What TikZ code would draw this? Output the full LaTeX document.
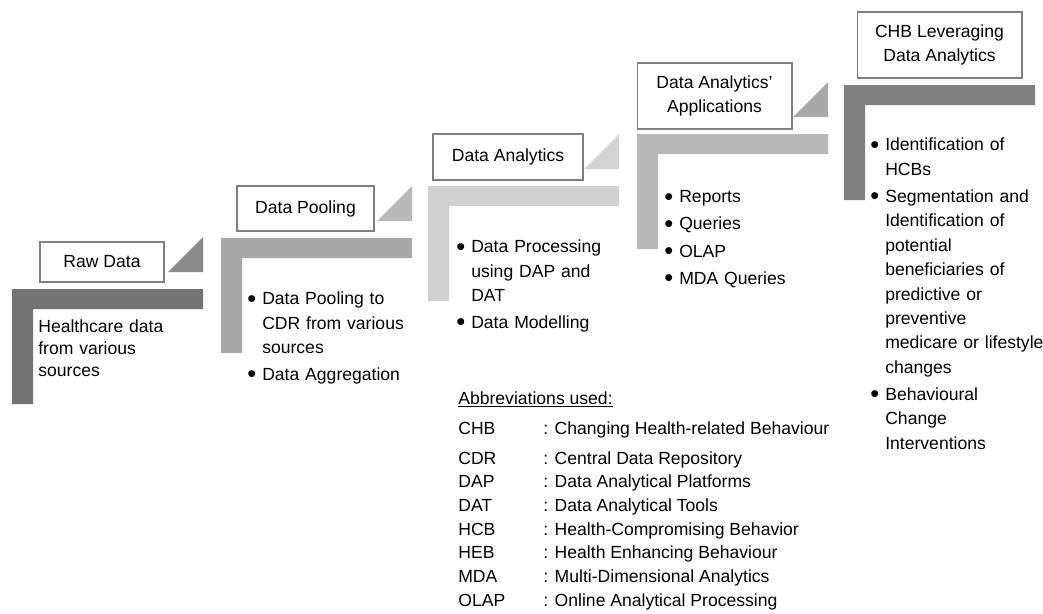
\documentclass[tikz,border=0pt]{standalone}
\usepackage{fontspec}
\setmainfont{Liberation Sans}
\usepackage{tikz}
\definecolor{stageone}{gray}{0.45}
\definecolor{stagetwo}{gray}{0.66}
\definecolor{stagethree}{gray}{0.82}
\definecolor{stagefour}{gray}{0.72}
\definecolor{stagefive}{gray}{0.50}
\definecolor{wedgeone}{gray}{0.54}
\definecolor{wedgetwo}{gray}{0.72}
\definecolor{wedgethree}{gray}{0.83}
\definecolor{wedgefour}{gray}{0.66}
\definecolor{boxline}{gray}{0.5}
\newcommand{\bitem}[1]{\par\hangindent=8.5pt\hangafter=1\noindent\makebox[8.5pt][l]{\raisebox{-0.12em}{\scalebox{1.45}{\textbullet}}}#1\par}

\begin{document}
\begin{tikzpicture}[
    x=0.02cm, y=-0.02cm,
    title/.style={draw=boxline, line width=0.6pt, fill=white, align=center, inner sep=2pt, font=\fontsize{10}{13.9}\selectfont},
    items/.style={anchor=north west, inner sep=0pt, text width=3.6cm, align=left, font=\fontsize{10}{13.9}\selectfont, execute at begin node={\setlength{\parskip}{1.5pt}}},
    abbr/.style={anchor=base west, inner sep=0pt, font=\fontsize{10}{12}\selectfont}
]
\useasboundingbox (0,0) rectangle (1043,613);

% steps: L-shaped bar and corner wedge
\foreach \x/\y/\c/\w [count=\i] in {12/289/stageone/wedgeone, 221/238/stagetwo/wedgetwo, 428/186/stagethree/wedgethree, 637/134/stagefour/wedgefour, 844/85/stagefive/white}{
    \fill[\c] (\x,\y) -- ++(191,0) -- ++(0,20) -- ++(-170,0) -- ++(0,95) -- ++(-21,0) -- cycle;
    \ifnum\i<5
        \fill[\w] (\x+156,\y-17) -- (\x+191,\y-17) -- (\x+191,\y-52) -- cycle;
    \fi
}

\node[title, minimum width=2.48cm, minimum height=0.8cm] (raw) at (102,262) {Raw Data};
\node[title, minimum width=2.74cm, minimum height=0.9cm] (pool) at (305.5,208.5) {Data Pooling};
\node[title, minimum width=3.0cm, minimum height=0.92cm] (anal) at (508,157) {Data Analytics};
\node[title, minimum width=3.1cm, minimum height=1.32cm] (apps) at (714.5,96) {Data Analytics'\\Applications};
\node[title, minimum width=3.3cm, minimum height=1.32cm] (chb) at (939.5,45) {CHB Leveraging\\Data Analytics};

\node[items, font=\fontsize{10}{12.5}\selectfont] (rawtext) at (38,319.5) {Healthcare data\\from various\\sources};
\node[items] (pooltext) at (247,277.5) {\bitem{Data Pooling to\newline CDR from various\newline sources}\bitem{Data Aggregation}};
\node[items] (analtext) at (456,225.5) {\bitem{Data Processing\newline using DAP and\newline DAT}\bitem{Data Modelling}};
\node[items] (appstext) at (664,175.5) {\bitem{Reports}\bitem{Queries}\bitem{OLAP}\bitem{MDA Queries}};
\node[items] (chbtext) at (870,123.5) {\bitem{Identification of\newline HCBs}\bitem{Segmentation and\newline Identification of\newline potential\newline beneficiaries of\newline predictive or\newline preventive\newline medicare or lifestyle\newline changes}\bitem{Behavioural\newline Change\newline Interventions}};

% abbreviations
\node[abbr] (abbrhead) at (458,404) {\underline{Abbreviations used:}};
\foreach \y/\a/\m [count=\i] in {434/CHB/Changing Health-related Behaviour, 464/CDR/Central Data Repository, 487.7/DAP/Data Analytical Platforms, 511.4/DAT/Data Analytical Tools, 535.1/HCB/Health-Compromising Behavior, 558.8/HEB/Health Enhancing Behaviour, 582.5/MDA/Multi-Dimensional Analytics, 606.2/OLAP/Online Analytical Processing}{
    \node[abbr] (ab\i) at (458,\y) {\a};
    \node[abbr] (def\i) at (543,\y) {: \m};
}

\end{tikzpicture}
\end{document}
